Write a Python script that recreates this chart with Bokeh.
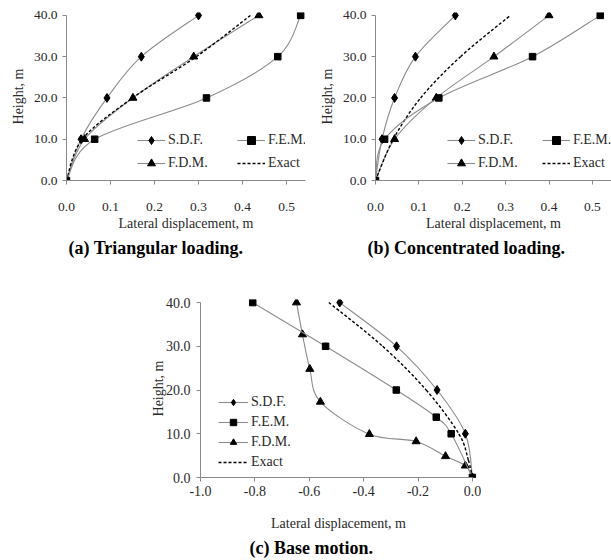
from bokeh.plotting import figure
from bokeh.layouts import column, row
from bokeh.models import Range1d, Legend, LegendItem, Title, FixedTicker, NumeralTickFormatter, Spacer
from bokeh.embed import file_html
from bokeh.resources import INLINE

# ---------------- data ----------------
heights = [0, 10, 20, 30, 40]

# (a) Triangular loading
a_sdf = [0, 0.033, 0.092, 0.17, 0.30]
a_fem = [0, 0.064, 0.318, 0.48, 0.532]
a_fdm = [0, 0.041, 0.151, 0.289, 0.437]
a_exact = [0, 0.036, 0.15, 0.295, 0.418]

# (b) Concentrated loading
b_sdf = [0, 0.015, 0.044, 0.092, 0.184]
b_fem = [0, 0.021, 0.146, 0.362, 0.518]
b_fdm = [0, 0.044, 0.14, 0.273, 0.40]
b_exact = [0, 0.041, 0.104, 0.196, 0.311]

# (c) Base motion
c_sdf_x = [-0.488, -0.279, -0.13, -0.026, 0]
c_sdf_y = [40, 30, 20, 10, 0]
c_fem_x = [-0.808, -0.54, -0.28, -0.133, -0.078, 0]
c_fem_y = [40, 30, 20, 13.8, 10, 0]
c_fdm_x = [-0.647, -0.625, -0.598, -0.559, -0.379, -0.207, -0.099, -0.026, 0]
c_fdm_y = [40, 32.7, 24.8, 17.3, 9.9, 8.25, 4.85, 2.7, 0]
c_exact_x = [-0.528, -0.33, -0.17, -0.05, -0.015, 0]
c_exact_y = [40, 30, 20, 10, 4, 0]

ab_xticks = [0, 0.1, 0.2, 0.3, 0.4, 0.5]
c_xticks = [-1.0, -0.8, -0.6, -0.4, -0.2, 0.0]
y_ticks = [0, 10, 20, 30, 40]

FONT = "Liberation Serif"
TXT = "#2a2a2a"
AX = "#8a8a8a"
LINE = "#8c8c8c"


def smooth(xs, ys):
    """Bezier segments through the points (smoothed line, as in the source chart)."""
    n = len(xs)
    d = dict(x0=[], y0=[], x1=[], y1=[], cx0=[], cy0=[], cx1=[], cy1=[])
    for i in range(n - 1):
        xp, yp = (xs[i - 1], ys[i - 1]) if i > 0 else (xs[i], ys[i])
        xn, yn = (xs[i + 2], ys[i + 2]) if i + 2 < n else (xs[i + 1], ys[i + 1])
        d["x0"].append(xs[i]); d["y0"].append(ys[i])
        d["x1"].append(xs[i + 1]); d["y1"].append(ys[i + 1])
        d["cx0"].append(xs[i] + (xs[i + 1] - xp) / 6.0)
        d["cy0"].append(ys[i] + (ys[i + 1] - yp) / 6.0)
        d["cx1"].append(xs[i + 1] - (xn - xs[i]) / 6.0)
        d["cy1"].append(ys[i + 1] - (yn - ys[i]) / 6.0)
    return d


def series(p, xs, ys, marker, size, dash=None):
    b = p.bezier(source=smooth(xs, ys), x0="x0", y0="y0", x1="x1", y1="y1",
                 cx0="cx0", cy0="cy0", cx1="cx1", cy1="cy1",
                 line_color="black" if dash else LINE,
                 line_width=1.4 if dash else 1.1,
                 line_dash=dash if dash else "solid")
    rs = [b]
    if marker:
        s = p.scatter(xs, ys, marker=marker, size=size, fill_color="black", line_color="black")
        rs.append(s)
    return rs


def style(p, xticks, tick_font, lab_font, xstandoff, xlabstandoff, ylabstandoff, ystandoff):
    p.outline_line_color = None
    p.xgrid.visible = False
    p.ygrid.visible = False
    for ax in (p.xaxis[0], p.yaxis[0]):
        ax.axis_line_color = AX
        ax.major_tick_line_color = AX
        ax.major_tick_out = 4
        ax.major_tick_in = 0
        ax.minor_tick_line_color = None
        ax.major_label_text_font = FONT
        ax.major_label_text_font_size = tick_font
        ax.major_label_text_color = TXT
        ax.axis_label_text_font = FONT
        ax.axis_label_text_font_size = lab_font
        ax.axis_label_text_font_style = "normal"
        ax.axis_label_text_color = TXT
        ax.formatter = NumeralTickFormatter(format="0.0")
    p.xaxis[0].ticker = FixedTicker(ticks=xticks)
    p.yaxis[0].ticker = FixedTicker(ticks=y_ticks)
    p.yaxis[0].bounds = (0, 40)
    p.xaxis[0].major_label_standoff = xstandoff
    p.xaxis[0].axis_label_standoff = xlabstandoff
    p.yaxis[0].axis_label_standoff = ylabstandoff
    p.yaxis[0].major_label_standoff = ystandoff
    p.xaxis[0].axis_label = "Lateral displacement, m"
    p.yaxis[0].axis_label = "Height, m"


def make_top(xs_list, exact, xend, width, mbl, mbr, caption, cap_offset, leg_x, lab_w):
    p = figure(width=width, height=265, output_backend="svg", toolbar_location=None,
               x_range=Range1d(0, xend), y_range=Range1d(0, 40.7),
               min_border_left=mbl, min_border_right=mbr, min_border_top=12,
               min_border_bottom=85)
    sdf, fem, fdm = xs_list
    r_fdm = series(p, fdm, heights, "triangle", 8)
    r_sdf = series(p, sdf, heights, "diamond", 9)
    r_ex = series(p, exact, heights, None, 0, dash="3 2")
    r_fem = series(p, fem, heights, "square", 6.5)
    style(p, ab_xticks, "13.5px", "14px", 18, 2, 5, 5)
    leg = Legend(items=[LegendItem(label="S.D.F.", renderers=r_sdf),
                        LegendItem(label="F.E.M.", renderers=r_fem),
                        LegendItem(label="F.D.M.", renderers=r_fdm),
                        LegendItem(label="Exact", renderers=r_ex)],
                 orientation="horizontal", ncols=2, location=(leg_x, 7),
                 glyph_width=28, glyph_height=20, label_height=20, label_width=lab_w,
                 label_standoff=3, spacing=3, padding=0, margin=0,
                 border_line_color=None, background_fill_alpha=0,
                 label_text_font=FONT, label_text_font_size="14px", label_text_color=TXT)
    p.add_layout(leg, "center")
    p.add_layout(Title(text=caption, align="left", offset=cap_offset, standoff=5,
                       text_font=FONT, text_font_size="18px", text_font_style="bold",
                       text_color="black"), "below")
    return p


pa = make_top((a_sdf, a_fem, a_fdm), a_exact, 0.543, 310, 66, 5,
              "(a) Triangular loading.", 2, 71, 66)
pb = make_top((b_sdf, b_fem, b_fdm), b_exact, 0.544, 301, 65, 0,
              "(b) Concentrated loading.", -8, 72, 61)

pc = figure(width=343, height=295, output_backend="svg", toolbar_location=None,
            x_range=Range1d(-1.0, 0.015), y_range=Range1d(0, 40.7),
            min_border_left=62, min_border_right=5, min_border_top=34,
            min_border_bottom=82)
rc_fdm = series(pc, c_fdm_x, c_fdm_y, "triangle", 8)
rc_sdf = series(pc, c_sdf_x, c_sdf_y, "diamond", 9)
rc_ex = series(pc, c_exact_x, c_exact_y, None, 0, dash="3 2")
rc_fem = series(pc, c_fem_x, c_fem_y, "square", 6.5)
style(pc, c_xticks, "14px", "14px", 4, 17, -3, 6)
pc.xaxis[0].bounds = (-1.0, 0.0)
legc = Legend(items=[LegendItem(label="S.D.F.", renderers=rc_sdf),
                     LegendItem(label="F.E.M.", renderers=rc_fem),
                     LegendItem(label="F.D.M.", renderers=rc_fdm),
                     LegendItem(label="Exact", renderers=rc_ex)],
              orientation="vertical", location=(18, 7),
              glyph_width=30, glyph_height=16, label_height=16,
              label_standoff=3, spacing=4, padding=0, margin=0,
              border_line_color=None, background_fill_alpha=0,
              label_text_font=FONT, label_text_font_size="14px", label_text_color=TXT)
pc.add_layout(legc, "center")
pc.add_layout(Title(text="(c) Base motion.", align="left", offset=49, standoff=5,
                    text_font=FONT, text_font_size="18px", text_font_style="bold",
                    text_color="black"), "below")

layout = column(row(pa, pb), row(Spacer(width=138, height=10), pc))

open("out.html", "w").write(file_html(layout, INLINE))
